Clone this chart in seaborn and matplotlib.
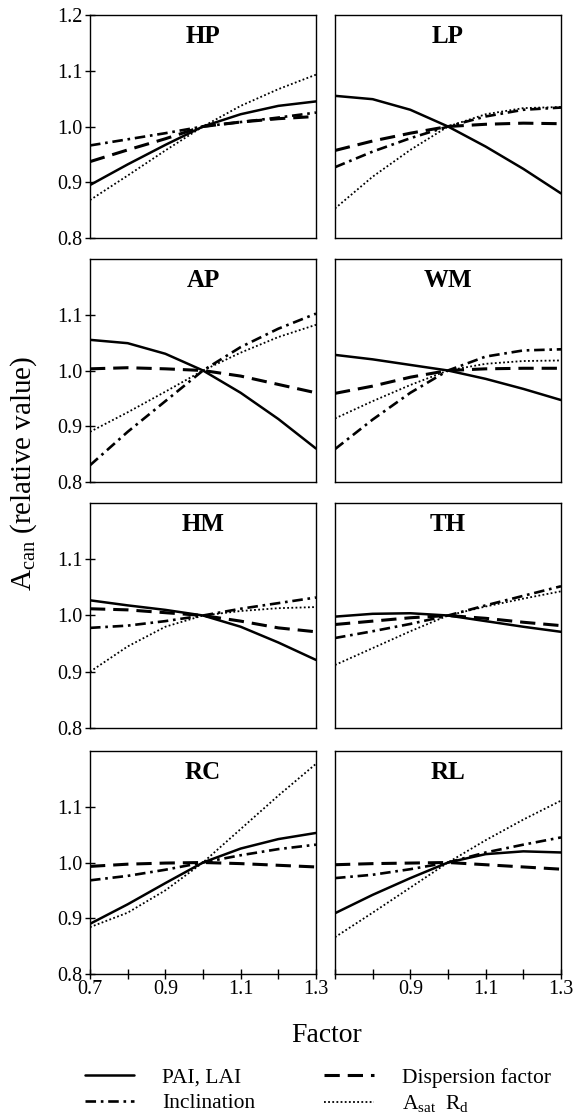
import numpy as np
import pandas as pd
import matplotlib
matplotlib.use("Agg")
import matplotlib.pyplot as plt
import seaborn as sns
from matplotlib.lines import Line2D

sns.set_theme(style="white")
plt.rcParams['font.family'] = ['Liberation Serif', 'DejaVu Serif']
plt.rcParams['mathtext.fontset'] = 'custom'
plt.rcParams['mathtext.rm'] = 'Liberation Serif'
plt.rcParams['mathtext.it'] = 'Liberation Serif:italic'
plt.rcParams['text.color'] = 'black'
plt.rcParams['axes.labelcolor'] = 'black'
plt.rcParams['xtick.color'] = 'black'
plt.rcParams['ytick.color'] = 'black'

# ---------------- data ----------------
factor = [0.7, 0.8, 0.9, 1.0, 1.1, 1.2, 1.3]
panels = ["HP", "LP", "AP", "WM", "HM", "TH", "RC", "RL"]
series = ["PAI, LAI", "Dispersion factor", "Inclination", "Asat Rd"]

HP_pai  = [0.895, 0.932, 0.967, 1.000, 1.022, 1.037, 1.045]
HP_disp = [0.937, 0.958, 0.978, 1.000, 1.008, 1.014, 1.018]
HP_incl = [0.966, 0.977, 0.988, 1.000, 1.008, 1.016, 1.025]
HP_asat = [0.868, 0.912, 0.957, 1.000, 1.037, 1.067, 1.093]

LP_pai  = [1.055, 1.049, 1.030, 1.000, 0.964, 0.924, 0.880]
LP_disp = [0.957, 0.974, 0.988, 1.000, 1.004, 1.006, 1.005]
LP_incl = [0.927, 0.955, 0.979, 1.000, 1.018, 1.030, 1.034]
LP_asat = [0.853, 0.910, 0.958, 1.000, 1.022, 1.033, 1.035]

AP_pai  = [1.055, 1.049, 1.030, 1.000, 0.960, 0.913, 0.860]
AP_disp = [1.003, 1.005, 1.003, 1.000, 0.990, 0.975, 0.960]
AP_incl = [0.830, 0.890, 0.945, 1.000, 1.042, 1.075, 1.102]
AP_asat = [0.890, 0.925, 0.962, 1.000, 1.032, 1.060, 1.082]

WM_pai  = [1.028, 1.020, 1.010, 1.000, 0.985, 0.967, 0.947]
WM_disp = [0.959, 0.972, 0.988, 1.000, 1.003, 1.004, 1.004]
WM_incl = [0.859, 0.912, 0.960, 1.000, 1.025, 1.036, 1.038]
WM_asat = [0.914, 0.945, 0.974, 1.000, 1.012, 1.017, 1.018]

HM_pai  = [1.027, 1.018, 1.010, 1.000, 0.980, 0.952, 0.921]
HM_disp = [1.012, 1.010, 1.005, 1.000, 0.990, 0.978, 0.971]
HM_incl = [0.978, 0.982, 0.990, 1.000, 1.012, 1.022, 1.032]
HM_asat = [0.900, 0.945, 0.980, 1.000, 1.008, 1.013, 1.015]

TH_pai  = [0.998, 1.003, 1.004, 1.000, 0.990, 0.980, 0.971]
TH_disp = [0.984, 0.990, 0.996, 1.000, 0.995, 0.988, 0.982]
TH_incl = [0.960, 0.972, 0.985, 1.000, 1.018, 1.035, 1.052]
TH_asat = [0.912, 0.942, 0.972, 1.000, 1.016, 1.030, 1.043]

RC_pai  = [0.890, 0.925, 0.963, 1.000, 1.025, 1.042, 1.053]
RC_disp = [0.993, 0.997, 0.999, 1.000, 0.998, 0.995, 0.992]
RC_incl = [0.968, 0.976, 0.987, 1.000, 1.013, 1.024, 1.032]
RC_asat = [0.884, 0.910, 0.950, 1.000, 1.060, 1.120, 1.177]

RL_pai  = [0.909, 0.942, 0.972, 1.000, 1.015, 1.020, 1.018]
RL_disp = [0.996, 0.998, 0.999, 1.000, 0.996, 0.992, 0.988]
RL_incl = [0.972, 0.978, 0.988, 1.000, 1.018, 1.032, 1.045]
RL_asat = [0.866, 0.910, 0.955, 1.000, 1.040, 1.077, 1.111]

data = {
    "HP": [HP_pai, HP_disp, HP_incl, HP_asat],
    "LP": [LP_pai, LP_disp, LP_incl, LP_asat],
    "AP": [AP_pai, AP_disp, AP_incl, AP_asat],
    "WM": [WM_pai, WM_disp, WM_incl, WM_asat],
    "HM": [HM_pai, HM_disp, HM_incl, HM_asat],
    "TH": [TH_pai, TH_disp, TH_incl, TH_asat],
    "RC": [RC_pai, RC_disp, RC_incl, RC_asat],
    "RL": [RL_pai, RL_disp, RL_incl, RL_asat],
}

yticks_top = [0.8, 0.9, 1.0, 1.1, 1.2]
yticks_low = [0.8, 0.9, 1.0, 1.1]
xticks = [0.7, 0.8, 0.9, 1.0, 1.1, 1.2, 1.3]
xticklabels = ["0.7", "", "0.9", "", "1.1", "", "1.3"]

# ---------------- styles ----------------
styles = {
    "PAI, LAI": dict(linestyle="-", lw=1.8),
    "Dispersion factor": dict(linestyle=(0, (5, 2.6)), lw=2.2),
    "Inclination": dict(linestyle=(0, (4, 1.8, 1, 1.8)), lw=1.9),
    "Asat Rd": dict(linestyle=(0, (1, 1.3)), lw=1.3),
}

W, H = 577, 1114
fig = plt.figure(figsize=(W / 100, H / 100), dpi=100)
fig.patch.set_facecolor("white")

col_x = [(90, 316), (335, 561)]
row_y = [(15, 238), (259, 482), (503, 728), (751, 974)]

for i, name in enumerate(panels):
    r, c = divmod(i, 2)
    x0, x1 = col_x[c]
    y0, y1 = row_y[r]
    ax = fig.add_axes([x0 / W, 1 - y1 / H, (x1 - x0) / W, (y1 - y0) / H])
    df = pd.DataFrame({"factor": factor * 4,
                       "value": sum(data[name], []),
                       "series": np.repeat(series, len(factor))})
    for s in series:
        sub = df[df["series"] == s]
        sns.lineplot(data=sub, x="factor", y="value", ax=ax, color="black",
                     **styles[s])
    ax.set_xlim(0.7, 1.3)
    ax.set_ylim(0.8, 1.2)
    ax.set_xlabel("")
    ax.set_ylabel("")
    for sp in ax.spines.values():
        sp.set_color("black")
        sp.set_linewidth(1.0)
    ax.text(0.5, 0.955, name, transform=ax.transAxes, ha="center", va="top",
            fontsize=18, fontweight="bold", color="black")
    ax.tick_params(direction="inout", length=7, width=1, color="black",
                   labelsize=14.5, labelcolor="black")
    if c == 0:
        if r == 0:
            ax.set_yticks(yticks_top)
            ax.set_yticklabels([f"{v:.1f}" for v in yticks_top])
        else:
            ax.set_yticks(yticks_low)
            ax.set_yticklabels([f"{v:.1f}" for v in yticks_low])
        ax.tick_params(axis="y", left=True, pad=2)
    else:
        ax.set_yticks([])
    if r == 3:
        ax.set_xticks(xticks)
        labs = list(xticklabels)
        if c == 1:
            labs[0] = ""
        ax.set_xticklabels(labs)
        ax.tick_params(axis="x", bottom=True, pad=1)
    else:
        ax.set_xticks([])

fig.text(24 / W, 1 - 473 / H, r"$\mathrm{A_{can}}$ (relative value)",
         rotation=90, ha="center", va="center", fontsize=21, color="black")
fig.text(327 / W, 1 - 1036 / H, "Factor", ha="center", va="center",
         fontsize=20, color="black")

handles = [Line2D([], [], color="black", **styles[s]) for s in series]
order = [0, 2, 1, 3]
labels = ["PAI, LAI", "Dispersion factor", "Inclination",
          r"$\mathrm{A_{sat}\ \ R_d}$"]
leg = fig.legend([handles[k] for k in order], [labels[k] for k in order],
                 loc="upper left", bbox_to_anchor=(74 / W, 1 - 1057 / H), ncol=2,
                 frameon=False, fontsize=15.5, handlelength=2.3, borderpad=0,
                 handletextpad=1.3, columnspacing=3.2, labelspacing=0.25)
for t in leg.get_texts():
    t.set_color("black")

fig.savefig("out.png", dpi=100, facecolor="white")
